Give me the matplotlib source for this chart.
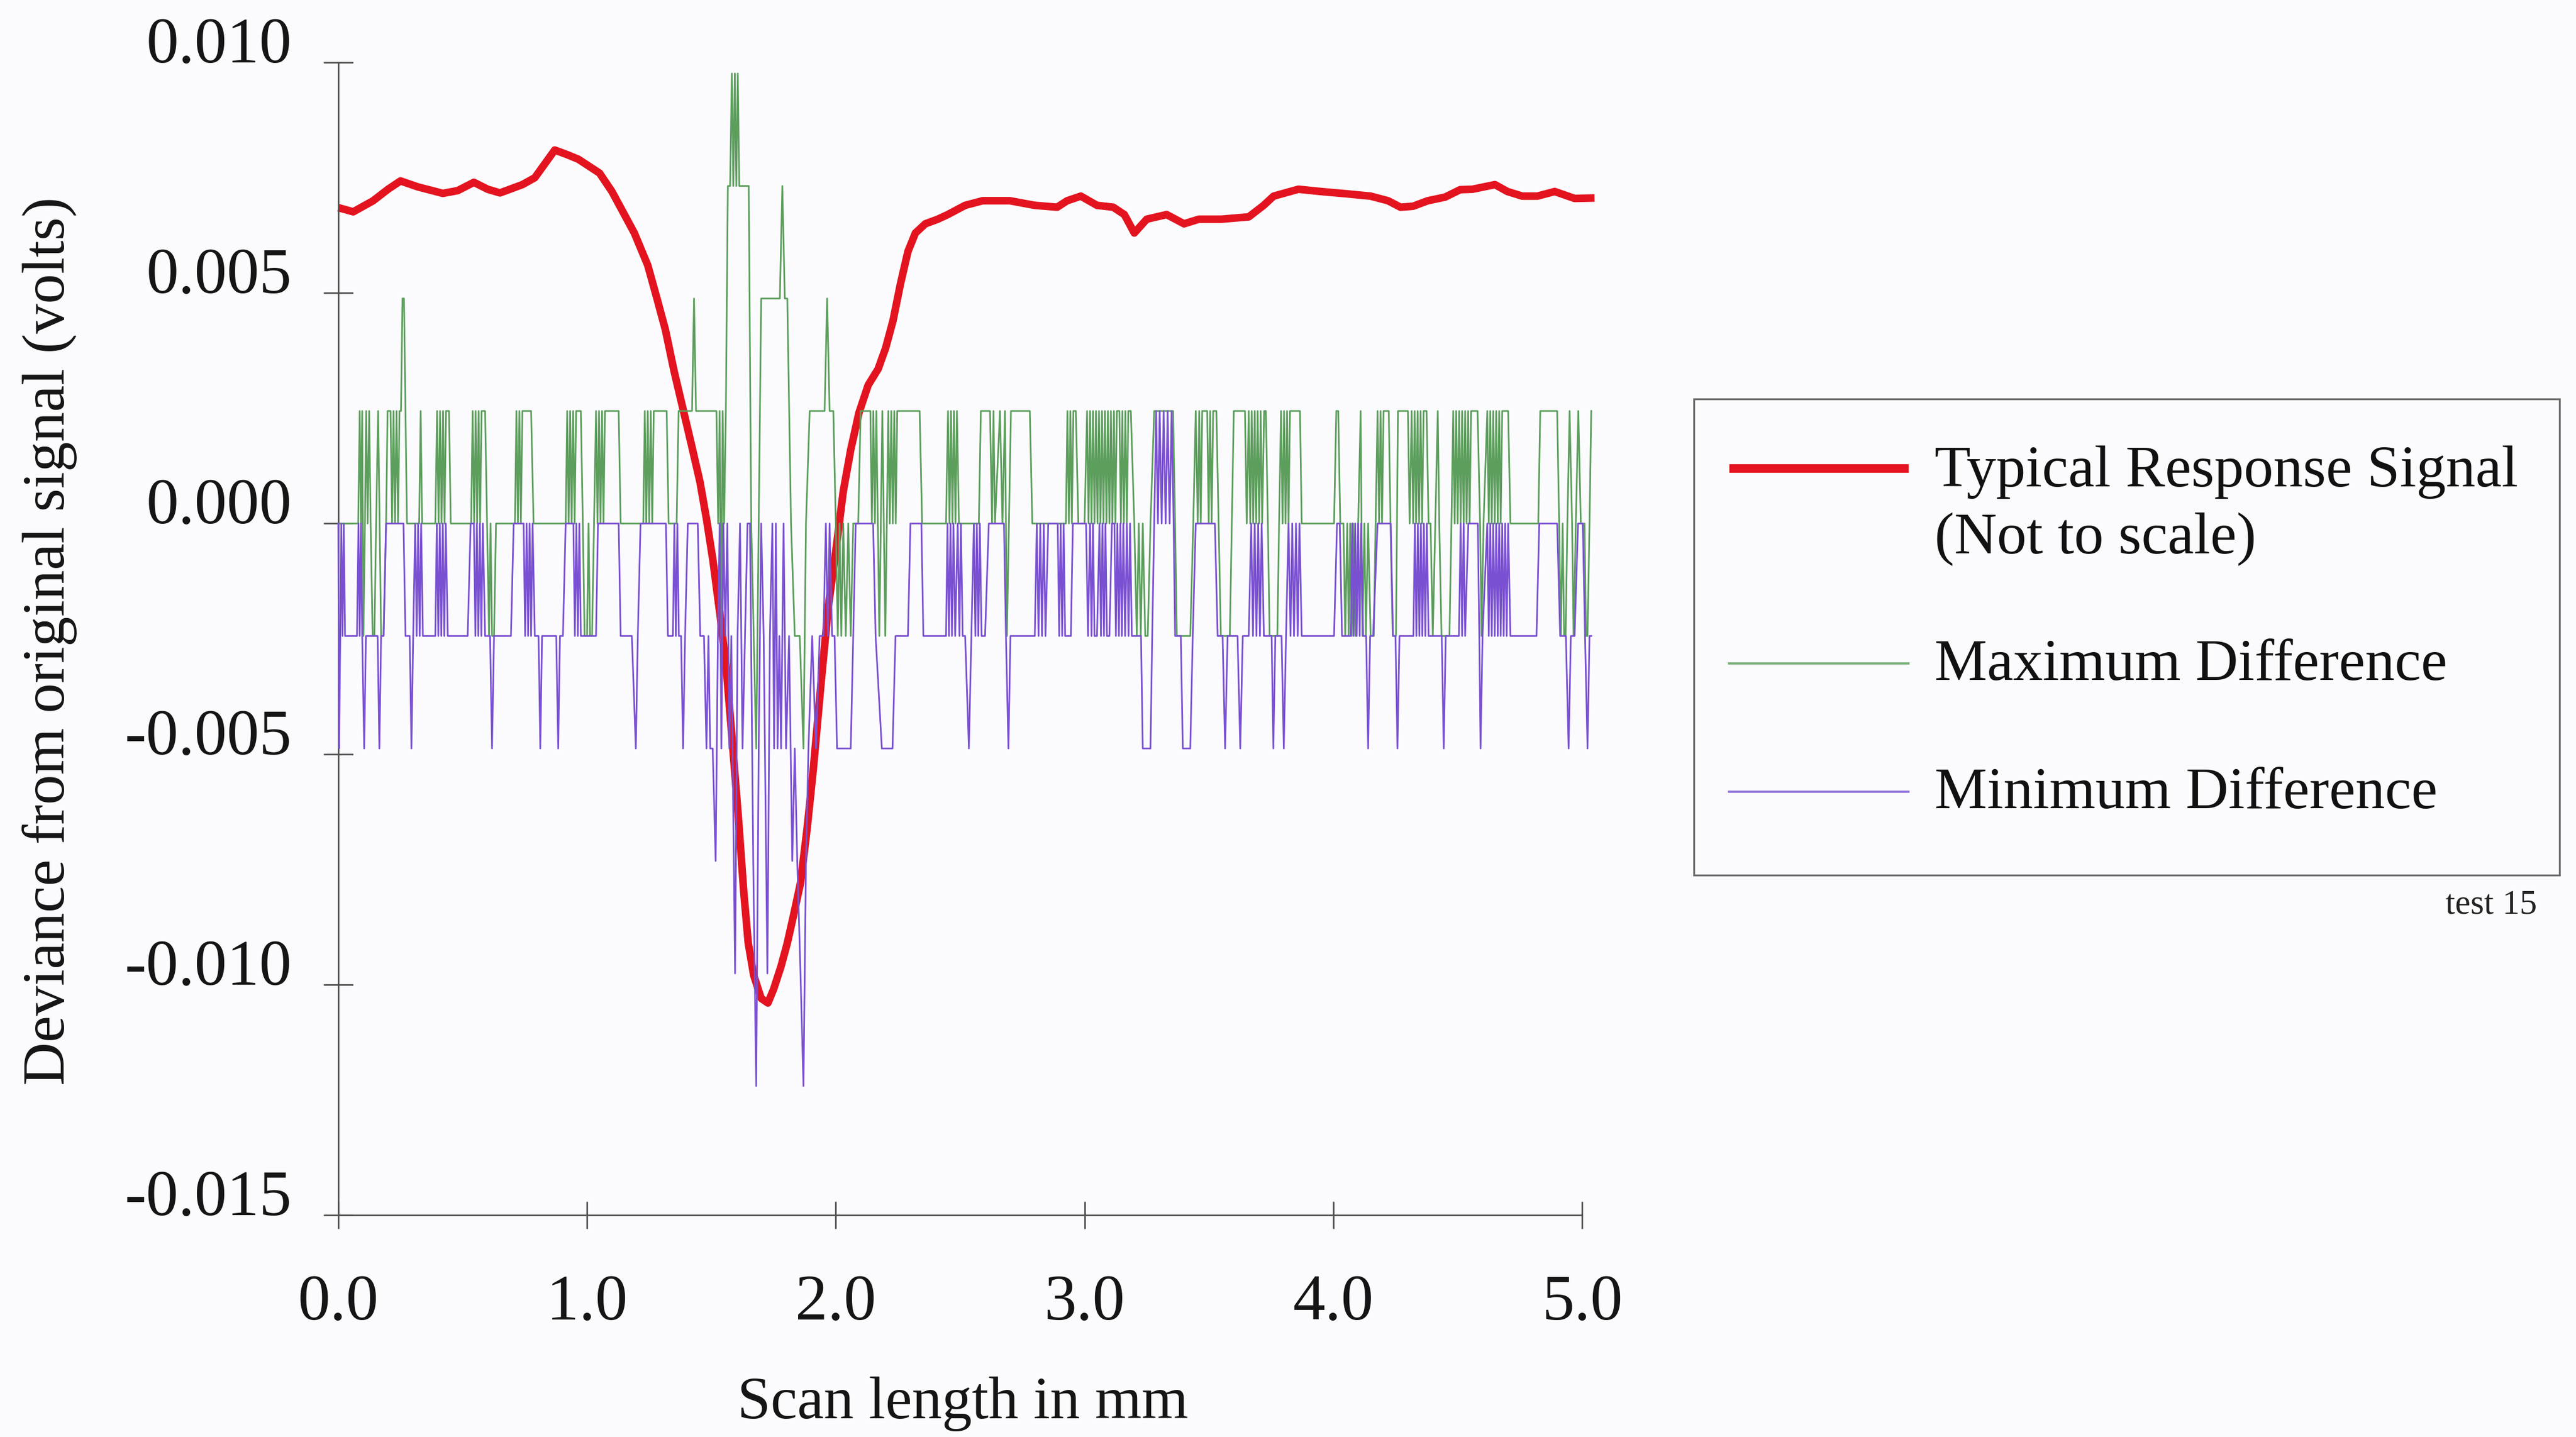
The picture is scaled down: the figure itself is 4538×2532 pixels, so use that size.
import matplotlib
matplotlib.use("Agg")
import matplotlib.pyplot as plt
from matplotlib.patches import Rectangle
from matplotlib.lines import Line2D
from matplotlib.ticker import FixedLocator, FixedFormatter

# ---------------- data ----------------
LSB = 0.00244          # quantisation step of the difference signals (volts)

x_ticks = [0.0, 1.0, 2.0, 3.0, 4.0, 5.0]
x_tick_labels = ["0.0", "1.0", "2.0", "3.0", "4.0", "5.0"]
y_ticks = [-0.015, -0.010, -0.005, 0.000, 0.005, 0.010]
y_tick_labels = ["-0.015", "-0.010", "-0.005", "0.000", "0.005", "0.010"]

# Typical response signal (mm, volts)
response_x = [0.00, 0.06, 0.14, 0.20, 0.25, 0.32, 0.42, 0.48, 0.545, 0.60, 0.65, 0.74,
              0.79, 0.83, 0.87, 0.92, 0.965, 1.05, 1.10, 1.14, 1.19, 1.244, 1.28, 1.315,
              1.35, 1.385, 1.42, 1.454, 1.48, 1.506, 1.535, 1.559, 1.585, 1.61, 1.63,
              1.648, 1.67, 1.70, 1.727, 1.75, 1.78, 1.805, 1.83, 1.858, 1.885, 1.91,
              1.94, 1.97, 2.00, 2.03, 2.06, 2.093, 2.13, 2.17, 2.20, 2.23, 2.26, 2.29,
              2.32, 2.36, 2.41, 2.45, 2.52, 2.59, 2.70, 2.80, 2.89, 2.93, 2.985, 3.05,
              3.115, 3.16, 3.20, 3.25, 3.33, 3.40, 3.46, 3.55, 3.66, 3.72, 3.76, 3.86,
              3.95, 4.055, 4.15, 4.22, 4.27, 4.32, 4.38, 4.45, 4.51, 4.56, 4.65, 4.70,
              4.76, 4.82, 4.89, 4.97, 5.05]
response_v = [0.00685, 0.00676, 0.00700, 0.00725, 0.00743, 0.00730, 0.00716, 0.00722,
              0.00740, 0.00725, 0.00717, 0.00735, 0.00750, 0.00780, 0.00810, 0.00800,
              0.00790, 0.00760, 0.00720, 0.00680, 0.00630, 0.00560, 0.00490, 0.00420,
              0.00330, 0.00250, 0.00170, 0.00090, 0.00010, -0.00080, -0.00200, -0.00310,
              -0.00480, -0.00650, -0.00800, -0.00910, -0.00980, -0.01030, -0.01040,
              -0.01010, -0.00960, -0.00910, -0.00850, -0.00780, -0.00660, -0.00530,
              -0.00350, -0.00180, -0.00060, 0.00070, 0.00160, 0.00240, 0.00300, 0.00335,
              0.00380, 0.00440, 0.00520, 0.00590, 0.00630, 0.00650, 0.00660, 0.00670,
              0.00690, 0.00700, 0.00700, 0.00690, 0.00686, 0.00700, 0.00710, 0.00690,
              0.00686, 0.00670, 0.00630, 0.00660, 0.00670, 0.00650, 0.00660, 0.00660,
              0.00665, 0.00690, 0.00710, 0.00725, 0.00720, 0.00715, 0.00710, 0.00700,
              0.00686, 0.00688, 0.00700, 0.00708, 0.00724, 0.00725, 0.00735, 0.00720,
              0.00710, 0.00710, 0.00720, 0.00705, 0.00706]

# Maximum difference: polyline vertices (mm, level in LSB steps)
max_pts = [
    (0.000, 0), (0.080, 0), (0.086, 1), (0.091, 0), (0.096, 1), (0.101, -1), (0.107, 0),
    (0.112, 1), (0.118, 0), (0.124, 1), (0.130, 0), (0.138, -1), (0.145, -1), (0.152, 0),
    (0.160, 1), (0.166, 0), (0.172, -1), (0.182, -1), (0.192, 0), (0.198, 1), (0.210, 1),
    (0.216, 0), (0.222, 1), (0.228, 0), (0.234, 1), (0.240, 0), (0.246, 1), (0.252, 1),
    (0.258, 2), (0.264, 2), (0.270, 1), (0.276, 0), (0.325, 0), (0.331, 1), (0.337, 0),
    (0.390, 0), (0.397, 1), (0.403, 0), (0.409, 1), (0.415, 0), (0.421, 1), (0.427, 0),
    (0.433, 1), (0.445, 1), (0.452, 0), (0.534, 0), (0.540, 1), (0.546, 0), (0.552, 1),
    (0.558, 0), (0.564, 1), (0.570, 0), (0.576, 1), (0.590, 1), (0.598, 0), (0.606, -1),
    (0.612, 0), (0.618, -1), (0.626, -1), (0.634, 0), (0.710, 0), (0.716, 1), (0.722, 0),
    (0.728, 1), (0.734, 0), (0.740, 1), (0.775, 1), (0.785, 0), (0.914, 0), (0.920, 1),
    (0.926, 0), (0.932, 1), (0.938, 0), (0.944, 1), (0.950, 0), (0.956, 1), (0.975, 1),
    (0.983, 0), (0.990, -1), (1.000, -1), (1.006, 0), (1.012, -1), (1.020, -1), (1.028, 0),
    (1.036, 1), (1.042, 0), (1.048, 1), (1.054, 0), (1.060, 1), (1.066, 0), (1.072, 1),
    (1.127, 1), (1.135, 0), (1.226, 0), (1.232, 1), (1.238, 0), (1.244, 1), (1.250, 0),
    (1.256, 1), (1.262, 0), (1.268, 1), (1.320, 1), (1.328, 0), (1.360, 0), (1.368, 1),
    (1.422, 1), (1.430, 2), (1.438, 1), (1.520, 1), (1.527, 0), (1.533, 1), (1.539, -1),
    (1.545, 1), (1.551, 0), (1.558, 1), (1.566, 3), (1.575, 3), (1.582, 4), (1.588, 3),
    (1.594, 4), (1.600, 3), (1.606, 4), (1.612, 3), (1.650, 3), (1.660, 0), (1.670, -1),
    (1.680, -2), (1.690, 0), (1.700, 2), (1.775, 2), (1.785, 3), (1.795, 2), (1.805, 2),
    (1.820, 0), (1.835, -1), (1.855, -1), (1.870, -2), (1.880, 0), (1.895, 1), (1.955, 1),
    (1.965, 2), (1.975, 1), (1.990, 1), (2.000, 0), (2.008, -1), (2.015, 0), (2.022, -1),
    (2.030, 0), (2.040, -1), (2.050, 0), (2.060, -1), (2.070, 0), (2.090, 0), (2.100, 1),
    (2.139, 1), (2.145, 0), (2.151, 1), (2.157, 0), (2.163, 1), (2.169, 0), (2.175, -1),
    (2.181, 0), (2.187, 1), (2.193, 0), (2.199, -1), (2.205, 0), (2.211, 1), (2.217, 0),
    (2.223, 1), (2.229, 0), (2.235, 1), (2.241, 0), (2.247, 1), (2.337, 1), (2.347, 0),
    (2.443, 0), (2.451, 1), (2.457, 0), (2.463, 1), (2.469, 0), (2.475, 1), (2.481, 0),
    (2.487, 1), (2.495, 0), (2.575, 0), (2.583, 1), (2.620, 1), (2.628, 0), (2.634, 1),
    (2.640, 0), (2.660, 1), (2.670, 0), (2.680, 1), (2.688, -1), (2.696, 0), (2.704, 1),
    (2.780, 1), (2.790, 0), (2.925, 0), (2.931, 1), (2.937, 0), (2.943, 1), (2.949, 0),
    (2.955, 1), (2.965, 1), (2.975, 0), (3.000, 0), (3.010, 1), (3.016, 0), (3.022, 1),
    (3.028, 0), (3.034, 1), (3.040, 0), (3.046, 1), (3.052, 0), (3.058, 1), (3.064, 0),
    (3.070, 1), (3.076, 0), (3.082, 1), (3.088, 0), (3.094, 1), (3.100, 0), (3.106, 1),
    (3.112, 0), (3.118, 1), (3.124, 0), (3.130, 1), (3.140, 1), (3.146, 0), (3.152, 1),
    (3.158, 0), (3.164, 1), (3.170, 0), (3.176, 1), (3.186, 1), (3.200, 0), (3.210, -1),
    (3.218, 0), (3.226, -1), (3.234, 0), (3.244, -1), (3.254, -1), (3.265, 0), (3.280, 1),
    (3.356, 1), (3.364, 0), (3.371, -1), (3.425, -1), (3.437, 0), (3.447, 1), (3.455, 0),
    (3.461, 1), (3.467, 0), (3.473, 1), (3.493, 1), (3.499, 0), (3.505, 1), (3.511, 0),
    (3.517, 1), (3.530, 1), (3.539, 0), (3.548, -1), (3.584, -1), (3.592, 0), (3.600, 1),
    (3.645, 1), (3.652, 0), (3.660, 1), (3.666, 0), (3.672, 1), (3.678, 0), (3.684, 1),
    (3.690, 0), (3.696, 1), (3.702, 0), (3.708, 1), (3.714, 0), (3.722, 1), (3.729, 1),
    (3.737, 0), (3.744, -1), (3.775, -1), (3.782, 0), (3.790, 1), (3.796, 0), (3.802, 1),
    (3.808, 0), (3.814, 1), (3.820, 0), (3.826, 1), (3.866, 1), (3.873, 0), (4.003, 0),
    (4.012, 1), (4.020, 1), (4.028, 0), (4.041, 0), (4.048, -1), (4.056, 0), (4.062, -1),
    (4.068, 0), (4.074, -1), (4.080, 0), (4.090, -1), (4.100, 0), (4.110, 1), (4.117, -1),
    (4.125, 0), (4.131, -1), (4.140, 0), (4.150, -1), (4.163, -1), (4.170, 0), (4.178, 1),
    (4.184, 0), (4.190, 1), (4.196, 0), (4.202, 1), (4.223, 1), (4.230, 0), (4.239, -1),
    (4.252, -1), (4.260, 1), (4.300, 1), (4.307, 0), (4.315, 1), (4.321, 0), (4.327, 1),
    (4.333, 0), (4.339, 1), (4.345, 0), (4.351, 1), (4.357, 0), (4.363, 1), (4.375, 1),
    (4.383, 0), (4.391, 0), (4.400, -1), (4.410, 0), (4.420, 1), (4.426, 0), (4.435, -1),
    (4.467, -1), (4.475, 0), (4.482, 1), (4.488, 0), (4.494, 1), (4.500, 0), (4.506, 1),
    (4.512, 0), (4.518, 1), (4.524, 0), (4.530, 1), (4.536, 0), (4.542, 1), (4.548, 0),
    (4.554, 1), (4.580, 1), (4.590, 0), (4.596, -1), (4.604, 0), (4.619, 1), (4.625, 0),
    (4.631, 1), (4.637, 0), (4.643, 1), (4.649, 0), (4.655, 1), (4.661, 0), (4.667, 1),
    (4.673, 0), (4.679, 1), (4.703, 1), (4.712, 0), (4.824, 0), (4.832, 1), (4.900, 1),
    (4.908, 0), (4.915, -1), (4.922, 0), (4.928, -1), (4.934, -1), (4.941, 0), (4.950, 1),
    (4.960, 0), (4.966, -1), (4.975, 0), (4.985, 1), (4.995, 0), (5.010, 0), (5.016, -1),
    (5.022, -1), (5.030, 0), (5.037, 1),
]

# Minimum difference: polyline vertices (mm, level in LSB steps)
min_pts = [
    (0.000, 0), (0.003, -2), (0.008, -1), (0.012, 0), (0.017, -1), (0.022, 0), (0.027, -1),
    (0.075, -1), (0.081, 0), (0.086, -1), (0.091, 0), (0.096, -1), (0.104, -2), (0.111, -1),
    (0.158, -1), (0.165, -2), (0.172, -1), (0.182, -1), (0.192, 0), (0.262, 0), (0.270, -1),
    (0.287, -1), (0.294, -2), (0.301, -1), (0.309, 0), (0.315, -1), (0.321, 0), (0.327, -1),
    (0.333, 0), (0.340, -1), (0.390, -1), (0.396, 0), (0.402, -1), (0.408, 0), (0.414, -1),
    (0.420, 0), (0.426, -1), (0.432, 0), (0.440, -1), (0.520, -1), (0.532, 0), (0.545, 0),
    (0.551, -1), (0.557, 0), (0.563, -1), (0.569, 0), (0.575, -1), (0.581, 0), (0.590, -1),
    (0.610, -1), (0.618, -2), (0.626, -1), (0.694, -1), (0.705, 0), (0.745, 0), (0.751, -1),
    (0.757, 0), (0.763, -1), (0.769, 0), (0.775, -1), (0.781, 0), (0.790, -1), (0.805, -1),
    (0.812, -2), (0.819, -1), (0.876, -1), (0.884, -2), (0.891, -1), (0.903, -1), (0.914, 0),
    (0.945, 0), (0.951, -1), (0.957, 0), (0.963, -1), (0.969, 0), (0.975, -1), (1.036, -1),
    (1.044, 0), (1.127, 0), (1.135, -1), (1.180, -1), (1.196, -2), (1.204, -1), (1.215, 0),
    (1.317, 0), (1.325, -1), (1.345, -1), (1.351, 0), (1.357, -1), (1.363, 0), (1.369, -1),
    (1.378, -1), (1.386, -2), (1.394, -1), (1.405, 0), (1.445, 0), (1.455, -1), (1.470, -1),
    (1.480, -2), (1.488, -1), (1.495, -2), (1.505, -2), (1.517, -3), (1.526, -1), (1.533, 0),
    (1.540, -2), (1.548, 0), (1.556, -1), (1.564, 0), (1.572, -2), (1.580, -1), (1.595, -4),
    (1.605, -1), (1.615, 0), (1.625, -2), (1.635, -1), (1.645, 0), (1.655, 0), (1.668, -3),
    (1.680, -5), (1.690, -2), (1.700, 0), (1.710, -1), (1.725, -4), (1.735, -1), (1.745, 0),
    (1.752, -2), (1.759, 0), (1.766, -2), (1.773, -1), (1.780, -2), (1.790, 0), (1.800, -2),
    (1.812, -1), (1.825, -3), (1.835, -2), (1.845, -3), (1.858, -4), (1.870, -5), (1.880, -3),
    (1.890, -2), (1.905, -1), (1.920, -2), (1.935, -1), (1.950, -1), (1.960, 0), (1.968, -1),
    (1.975, 0), (1.985, -1), (1.995, -1), (2.005, -2), (2.060, -2), (2.080, 0), (2.150, 0),
    (2.160, -1), (2.185, -2), (2.228, -2), (2.240, -1), (2.290, -1), (2.300, 0), (2.344, 0),
    (2.352, -1), (2.443, -1), (2.449, 0), (2.455, -1), (2.461, 0), (2.467, -1), (2.473, 0),
    (2.480, -1), (2.490, 0), (2.497, -1), (2.503, 0), (2.510, -1), (2.520, -1), (2.535, -2),
    (2.545, -1), (2.555, 0), (2.561, -1), (2.567, 0), (2.573, -1), (2.579, 0), (2.586, -1),
    (2.600, -1), (2.615, 0), (2.676, 0), (2.684, -1), (2.694, -2), (2.702, -1), (2.800, -1),
    (2.808, 0), (2.815, -1), (2.822, 0), (2.829, -1), (2.836, 0), (2.843, -1), (2.854, 0),
    (2.892, 0), (2.898, -1), (2.904, 0), (2.910, -1), (2.916, 0), (2.922, -1), (2.945, -1),
    (2.953, 0), (3.006, 0), (3.014, -1), (3.022, 0), (3.028, -1), (3.034, 0), (3.040, -1),
    (3.050, -1), (3.060, 0), (3.066, -1), (3.072, 0), (3.078, -1), (3.084, 0), (3.090, -1),
    (3.100, -1), (3.110, 0), (3.120, 0), (3.126, -1), (3.132, 0), (3.138, -1), (3.144, 0),
    (3.150, -1), (3.156, 0), (3.163, -1), (3.170, 0), (3.177, -1), (3.183, 0), (3.190, -1),
    (3.227, -1), (3.234, -2), (3.265, -2), (3.272, -1), (3.280, 0), (3.288, 1), (3.295, 0),
    (3.302, 1), (3.310, 0), (3.318, 1), (3.326, 0), (3.334, 1), (3.342, 0), (3.350, 1),
    (3.358, 0), (3.364, -1), (3.387, -1), (3.395, -2), (3.425, -2), (3.435, -1), (3.447, 0),
    (3.524, 0), (3.535, -1), (3.555, -1), (3.565, -2), (3.575, -1), (3.615, -1), (3.626, -2),
    (3.636, -1), (3.660, -1), (3.670, 0), (3.677, -1), (3.684, 0), (3.691, -1), (3.698, 0),
    (3.705, -1), (3.712, 0), (3.721, -1), (3.752, -1), (3.759, -2), (3.767, -1), (3.792, -1),
    (3.801, -2), (3.810, -1), (3.820, 0), (3.828, -1), (3.835, 0), (3.842, -1), (3.850, 0),
    (3.857, -1), (3.864, 0), (3.873, -1), (4.003, -1), (4.015, 0), (4.026, 0), (4.035, -1),
    (4.070, -1), (4.076, 0), (4.082, -1), (4.088, 0), (4.094, -1), (4.100, 0), (4.106, -1),
    (4.112, 0), (4.120, -1), (4.132, -1), (4.140, -2), (4.148, -1), (4.160, -1), (4.178, 0),
    (4.231, 0), (4.240, -1), (4.250, -1), (4.258, -2), (4.266, -1), (4.322, -1), (4.328, 0),
    (4.334, -1), (4.340, 0), (4.346, -1), (4.352, 0), (4.358, -1), (4.364, 0), (4.370, -1),
    (4.376, 0), (4.383, -1), (4.436, -1), (4.444, -2), (4.452, -1), (4.505, -1), (4.512, 0),
    (4.518, -1), (4.524, 0), (4.530, -1), (4.543, 0), (4.581, 0), (4.587, -1), (4.592, -2),
    (4.600, -1), (4.619, 0), (4.625, -1), (4.631, 0), (4.637, -1), (4.643, 0), (4.649, -1),
    (4.655, 0), (4.661, -1), (4.667, 0), (4.673, -1), (4.679, 0), (4.685, -1), (4.691, 0),
    (4.697, -1), (4.703, 0), (4.712, -1), (4.817, -1), (4.828, 0), (4.900, 0), (4.912, -1),
    (4.935, -1), (4.946, -2), (4.955, -1), (4.970, -1), (4.984, 0), (5.003, 0), (5.012, -1),
    (5.022, -2), (5.030, -1), (5.037, -1),
]

legend_labels = ["Typical Response Signal", "(Not to scale)",
                 "Maximum Difference", "Minimum Difference"]
x_label = "Scan length in mm"
y_label = "Deviance from original signal (volts)"
note = "test 15"

# ---------------- styling ----------------
W, H, DPI = 4538, 2532, 200
BG = "#fbfbfd"
RED = "#e3141f"
GREEN = "#5c9e5c"
PURPLE = "#7a50d2"
AXC = "#505050"
SERIF = ["Liberation Serif", "DejaVu Serif"]

plt.rcParams["font.family"] = SERIF
plt.rcParams["axes.unicode_minus"] = False

fig = plt.figure(figsize=(W / DPI, H / DPI), dpi=DPI, facecolor=BG)

# axes: x 0..5 spans px 596..2787, y -0.015..0.010 spans px 2141..110 (from top)
ax = fig.add_axes([596 / W, (H - 2141) / H, (2787 - 596) / W, (2141 - 110) / H])
ax.set_xlim(0, 5)
ax.set_ylim(-0.015, 0.010)
ax.patch.set_alpha(0)
for s in ("top", "right"):
    ax.spines[s].set_visible(False)
for s in ("left", "bottom"):
    ax.spines[s].set_color(AXC)
    ax.spines[s].set_linewidth(1.0)

max_x = [p[0] for p in max_pts]
max_v = [p[1] * LSB for p in max_pts]
min_x = [p[0] for p in min_pts]
min_v = [p[1] * LSB for p in min_pts]

ax.plot(response_x, response_v, color=RED, lw=4.8, zorder=2, clip_on=False,
        solid_joinstyle="round", solid_capstyle="butt")
ax.plot(max_x, max_v, color=GREEN, lw=1.05, zorder=3, clip_on=False)
ax.plot(min_x, min_v, color=PURPLE, lw=1.05, zorder=4, clip_on=False)

ax.xaxis.set_major_locator(FixedLocator(x_ticks))
ax.xaxis.set_major_formatter(FixedFormatter(x_tick_labels))
ax.yaxis.set_major_locator(FixedLocator(y_ticks))
ax.yaxis.set_major_formatter(FixedFormatter(y_tick_labels))
ax.tick_params(axis="x", direction="inout", length=17, width=1.0, color=AXC,
               pad=29, labelsize=41, labelcolor="#151515")
ax.tick_params(axis="y", direction="inout", length=19, width=1.0, color=AXC,
               pad=20, labelsize=41, labelcolor="#151515")
for lab in ax.get_yticklabels():
    lab.set_va("baseline")

ax.set_xlabel(x_label, fontsize=38, color="#151515")
ax.xaxis.set_label_coords((1696 - 596) / (2787 - 596), -(2474 - 2141) / (2141 - 110))
ax.xaxis.label.set_va("center")
ax.set_ylabel(y_label, fontsize=38, color="#151515")
ax.yaxis.set_label_coords(-(596 - 87) / (2787 - 596), (2141 - 1129) / (2141 - 110))
ax.yaxis.label.set_va("center")

# ---------------- legend box ----------------
lx0, lx1, ly0, ly1 = 2984, 4509, 703, 1542   # px (y from top)
lax = fig.add_axes([lx0 / W, (H - ly1) / H, (lx1 - lx0) / W, (ly1 - ly0) / H])
lax.set_xlim(lx0, lx1)
lax.set_ylim(ly1, ly0)
lax.axis("off")
lax.add_patch(Rectangle((0, 0), 1, 1, transform=lax.transAxes, fill=False,
                        edgecolor="#6a6a6a", lw=1.2, clip_on=False))
hx0, hx1, tx = 3046, 3362, 3408
lax.add_line(Line2D([hx0, hx1], [825, 825], color=RED, lw=5.5, solid_capstyle="butt"))
lax.add_line(Line2D([hx0, hx1], [1169, 1169], color="#79b279", lw=1.4))
lax.add_line(Line2D([hx0, hx1], [1395, 1395], color="#8f73dc", lw=1.4))
lax.text(tx, 857, legend_labels[0], fontsize=37.5, va="baseline", ha="left", color="#111")
lax.text(tx, 975, legend_labels[1], fontsize=37.5, va="baseline", ha="left", color="#111")
lax.text(tx, 1198, legend_labels[2], fontsize=37.5, va="baseline", ha="left", color="#111")
lax.text(tx, 1424, legend_labels[3], fontsize=37.5, va="baseline", ha="left", color="#111")

fig.text(4469 / W, (H - 1609) / H, note, fontsize=22, ha="right", va="baseline",
         color="#222")

fig.savefig("out.png", dpi=DPI, facecolor=BG)
